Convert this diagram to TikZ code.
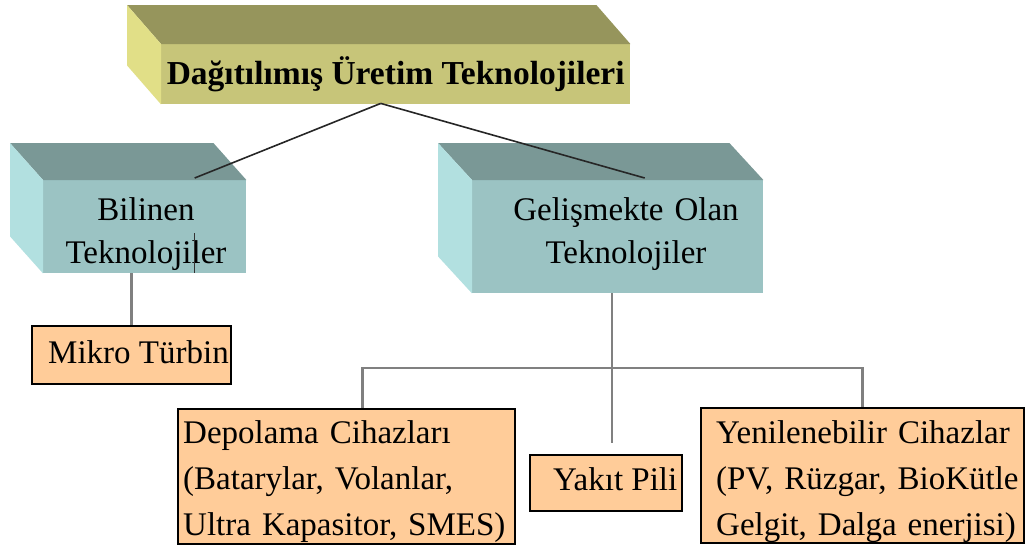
\documentclass[tikz,border=0pt]{standalone}
\usepackage{fontspec}
\setmainfont{Liberation Serif}
\usetikzlibrary{calc}

\definecolor{olivetop}{RGB}{150,149,92}
\definecolor{olivefront}{RGB}{199,197,121}
\definecolor{oliveside}{RGB}{225,223,135}
\definecolor{tealtop}{RGB}{122,152,150}
\definecolor{tealfront}{RGB}{155,195,195}
\definecolor{tealside}{RGB}{178,224,224}
\definecolor{peach}{RGB}{255,204,153}
\definecolor{treegray}{RGB}{128,128,128}

% top and left faces of a box whose front face is the node #1
\newcommand\prismfaces[5]{%
  \fill[#2] (#1.north west) -- (#1.north east) -- ++(#4,#5)
        -- ($(#1.north west)+(#4,#5)$) -- cycle;
  \fill[#3] (#1.north west) -- (#1.south west) -- ++(#4,#5)
        -- ($(#1.north west)+(#4,#5)$) -- cycle;
}

\begin{document}
\begin{tikzpicture}[x=1pt,y=-1pt,
  front/.style={draw=none,inner sep=0pt,anchor=north west},
  leaf/.style={draw=black,line width=1.8pt,fill=peach,inner sep=0pt,anchor=north west},
  bodytext/.style={inner sep=0pt,font=\fontsize{33}{46}\selectfont},
  headtext/.style={inner sep=0pt,font=\fontsize{33}{43}\selectfont,
                   text width=260pt,align=center,anchor=base},
  listtext/.style={bodytext,text width=330pt,align=left,anchor=base west},
  uplink/.style={draw=black!85,line width=1.6pt},
  treeline/.style={draw=treegray,line width=2.4pt}]
\useasboundingbox (0,0) rectangle (1030,550);

% ---- title block ----
\node[front,fill=olivefront,minimum width=469pt,minimum height=60pt,
      font=\bfseries\fontsize{33.5}{40}\selectfont] (top) at (161,44)
      {Dağıtılımış Üretim Teknolojileri};
\prismfaces{top}{olivetop}{oliveside}{-34}{-39}

% ---- second level blocks ----
\node[front,fill=tealfront,minimum width=203pt,minimum height=93pt] (bil) at (43,180) {};
\prismfaces{bil}{tealtop}{tealside}{-33}{-37}
\node[headtext] (bilT) at (146,220) {Bilinen\\Teknolojiler};

\node[front,fill=tealfront,minimum width=291pt,minimum height=113pt] (gel) at (472,180) {};
\prismfaces{gel}{tealtop}{tealside}{-34}{-37}
\node[headtext] (gelT) at (626,220) {Gelişmekte Olan\\Teknolojiler};

% ---- leaves ----
\node[leaf,minimum width=199pt,minimum height=58pt] (mik) at (31,325) {};
\node[leaf,minimum width=337pt,minimum height=135pt] (dep) at (177,408) {};
\node[leaf,minimum width=152pt,minimum height=56pt] (yak) at (529,454) {};
\node[leaf,minimum width=323pt,minimum height=135pt] (yen) at (700,407) {};

\begin{scope}
  \clip ($(mik.north west)+(1,1)$) rectangle ($(mik.south east)+(-1,-1)$);
  \node[bodytext,anchor=base west] (mikT) at (48,363) {Mikro Türbin};
\end{scope}
\begin{scope}
  \clip ($(yak.north west)+(1,1)$) rectangle ($(yak.south east)+(-1,-1)$);
  \node[bodytext,anchor=base west] (yakT) at (553,490) {Yakıt Pili};
\end{scope}
\node[listtext] (depT) at (183,443)
  {Depolama Cihazları\\(Batarylar, Volanlar,\\Ultra Kapasitor, SMES)};
\node[listtext] (yenT) at (716,443)
  {Yenilenebilir Cihazlar\\(PV, Rüzgar, BioKütle\\Gelgit, Dalga enerjisi)};

% ---- links from the title ----
\coordinate (hub) at ($(top.south)+(-15,-1)$);
\coordinate (bilIn) at ($(bil.north)+(50,-2)$);
\coordinate (gelIn) at ($(gel.north)+(27,-2)$);
\draw[uplink] (hub) -- (bilIn);
\draw[uplink] (hub) -- (gelIn);
\draw[draw=black!80,line width=0.9pt] ($(bilIn |- bil.south)+(0,-40)$) -- (bilIn |- bil.south);

% ---- tree below the blocks ----
\draw[treeline] (bil.south -| mik.north) -- (mik.north);
\coordinate (bus) at (612,368);
\draw[treeline] (gel.south -| bus) -- (bus);
\draw[treeline] ($(dep.north)+(16,0)$) |- (bus) -| (yen.north);
\draw[treeline] (bus) -- ($(yak.north -| bus)+(0,-11)$);
\end{tikzpicture}
\end{document}
